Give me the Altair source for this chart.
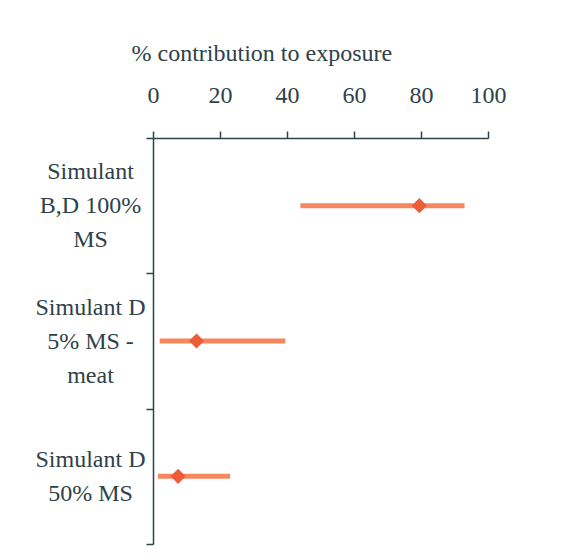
import altair as alt
import pandas as pd

categories = ["Simulant\nB,D 100%\nMS", "Simulant D\n5% MS -\nmeat", "Simulant D\n50% MS"]
central = [79.5, 13.0, 7.5]
low = [44.0, 2.0, 1.5]
high = [93.0, 39.5, 23.0]
x_ticks = [0, 20, 40, 60, 80, 100]

df = pd.DataFrame({"cat": categories, "mid": central, "lo": low, "hi": high})

FONT = "Liberation Serif"
TEXT = "#2f4149"

x_scale = alt.Scale(domain=[0, 100], nice=False, zero=True)
x_axis = alt.Axis(
    orient="top", values=x_ticks, title="% contribution to exposure",
    grid=False, tickSize=7, labelPadding=24, titlePadding=18, labelFlush=False,
    labelFontSize=24, titleFontSize=24, titleFontWeight="normal",
    titleAnchor="start", titleAlign="left", titleX=-22,
    labelFont=FONT, titleFont=FONT, labelColor=TEXT, titleColor=TEXT,
    domainColor=TEXT, tickColor=TEXT, domainWidth=1.5, tickWidth=1.5,
)
y_enc = alt.Y(
    "cat:N", sort=categories,
    scale=alt.Scale(paddingInner=0, paddingOuter=0),
    axis=alt.Axis(
        title=None, tickBand="extent", tickSize=7, labelPadding=56, grid=False,
        labelAlign="center", labelBaseline="middle", labelLineHeight=34,
        labelOffset=alt.ExprRef("-(length(split(datum.value, '\\n')) - 1) * 17"),
        labelFontSize=24, labelFont=FONT, labelColor=TEXT,
        domainColor=TEXT, tickColor=TEXT, domainWidth=1.5, tickWidth=1.5,
        labelExpr="split(datum.label, '\\n')",
    ),
)

bars = alt.Chart(df).mark_rule(color="#F5875F", strokeWidth=5).encode(
    x=alt.X("lo:Q", scale=x_scale, axis=x_axis), x2="hi:Q", y=y_enc
)

pts = alt.Chart(df).mark_point(shape="diamond", filled=True, size=230, color="#EE5C37", opacity=1).encode(
    x=alt.X("mid:Q", scale=x_scale, axis=x_axis), y=y_enc
)

chart = alt.layer(bars, pts).properties(
    width=335, height=406,
    autosize=alt.AutoSizeParams(type="none"),
    padding={"left": 145, "top": 130, "right": 60, "bottom": 8},
    view=alt.ViewBackground(stroke=None, strokeWidth=0),
).configure_view(strokeWidth=0).configure_axis(grid=False).configure(background="white")

chart.save("out.html", embed_options={"renderer": "svg", "actions": False})
